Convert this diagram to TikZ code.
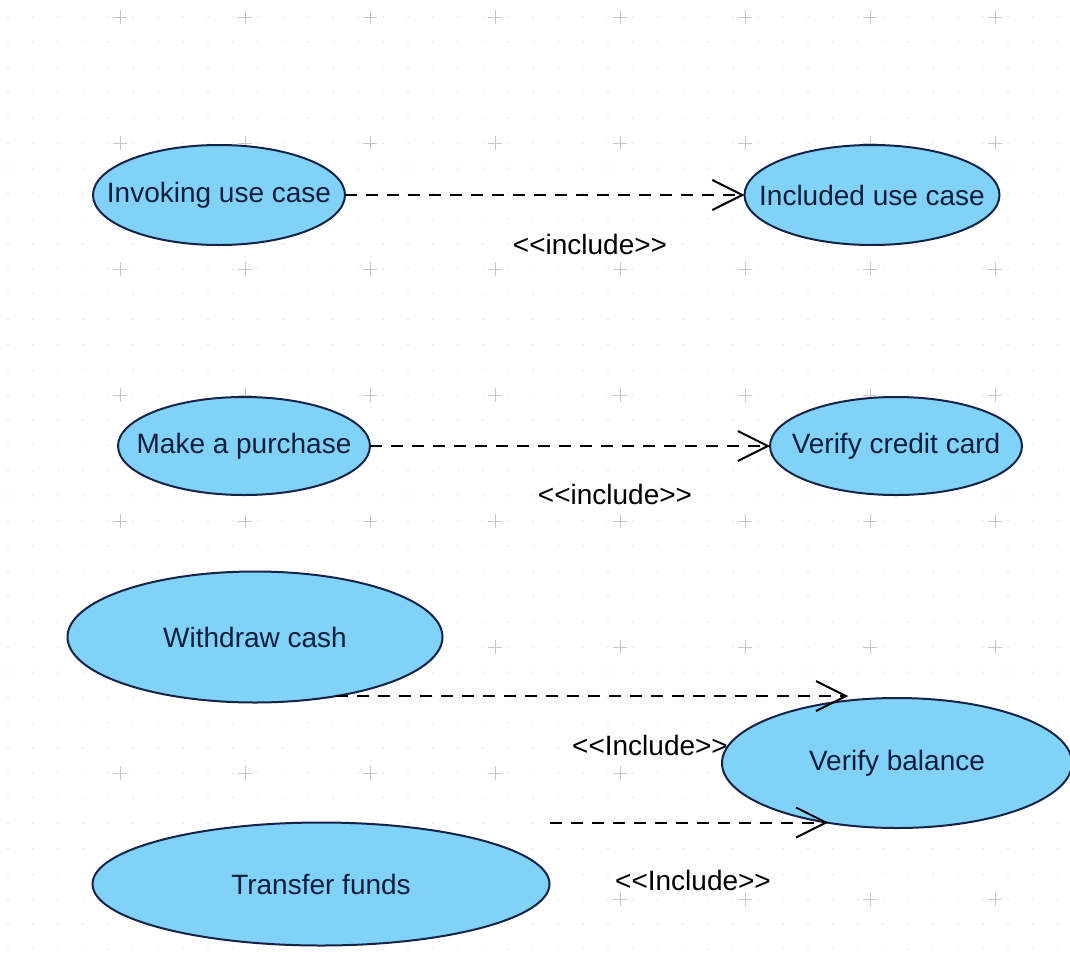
\documentclass[tikz,border=0pt]{standalone}
\usepackage{fontspec}
\setmainfont{Liberation Sans}
\newfontfamily\stereofont{Liberation Sans}
\usetikzlibrary{arrows.meta,shapes.geometric,positioning}
\definecolor{ucfill}{RGB}{128,210,248}
\definecolor{ucline}{RGB}{20,35,70}
\definecolor{uctext}{RGB}{15,30,60}
\newcommand{\ucname}[1]{\makebox[0pt]{#1}}

\begin{document}
\begin{tikzpicture}[x=0.5pt,y=-0.5pt,thick]
    \tikzstyle{usecase}=[ellipse, draw=ucline, fill=ucfill, line width=1pt, inner sep=0pt, outer sep=0pt, text=uctext, font=\fontsize{14}{16}\selectfont]
    \tikzstyle{incl}=[dash pattern=on 6pt off 4.5pt, line width=1pt, -{Straight Barb[length=15pt,width=15pt]}]
    \tikzstyle{stereo}=[inner sep=0pt, font=\stereofont\fontsize{14}{16}\selectfont]

    \fill[white] (0,0) rectangle (1070,969);
    \useasboundingbox (0,0) rectangle (1070,969);
    \foreach \i in {0,...,42}
      \foreach \j in {0,...,38}
        \fill[gray!18] (8+25*\i,17+25.2*\j) circle (0.5pt);
    \foreach \i in {0,...,7}
      \foreach \j in {0,...,7}
        \draw[gray!45, line width=0.5pt] (113+125*\i,17+126*\j) -- ++(14,0) (120+125*\i,10+126*\j) -- ++(0,14);

    \node[usecase, minimum width=126pt, minimum height=50pt]     (invoking) at (219,195) {\ucname{Invoking use case}};
    \node[usecase, minimum width=127.5pt, minimum height=50pt]   (included) at (872,195) {\ucname{Included use case}};
    \node[usecase, minimum width=126pt, minimum height=49pt]     (purchase) at (244,446) {\ucname{Make a purchase}};
    \node[usecase, minimum width=126pt, minimum height=49pt]     (creditcard) at (896,446) {\ucname{Verify credit card}};
    \node[usecase, minimum width=187.5pt, minimum height=65.5pt] (withdraw) at (255,637) {\ucname{Withdraw cash}};
    \node[usecase, minimum width=175pt, minimum height=65pt]     (balance) at (897,763) {\ucname{Verify balance}};
    \node[usecase, minimum width=228.5pt, minimum height=61.5pt] (transfer) at (321,884) {\ucname{Transfer funds}};

    \draw[incl] (invoking) -- (included);
    \draw[incl] (purchase) -- (creditcard);
    \draw[incl] (withdraw.-36) -- (withdraw.-36 -| balance.128);
    \draw[incl] (transfer.north -| transfer.east) -- (transfer.north -| balance.221);

    \node[stereo] (inc1) at (590,244) {<<include>>};
    \node[stereo] (inc2) at (615,494) {<<include>>};
    \node[stereo] (inc3) at (650,745) {<<Include>>};
    \node[stereo] (inc4) at (693,880) {<<Include>>};
\end{tikzpicture}
\end{document}
